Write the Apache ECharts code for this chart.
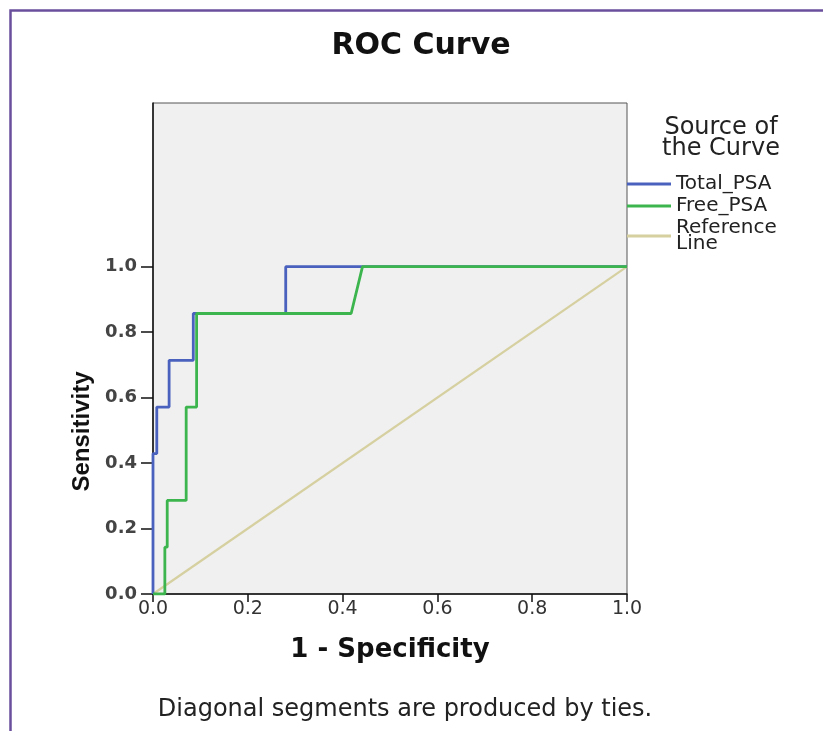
<!DOCTYPE html>
<html>
<head>
<meta charset="utf-8">
<script src="https://cdn.jsdelivr.net/npm/echarts@6/dist/echarts.min.js"></script>
<style>
html,body{margin:0;padding:0;background:#fff;}
#chart{width:823px;height:731px;}
</style>
</head>
<body>
<div id="chart"></div>
<script>
// ---- data ----
const titleText = 'ROC Curve';
const footnote = 'Diagonal segments are produced by ties.';
const legendTitle = 'Source of\nthe Curve';
const seriesNames = ['Total_PSA', 'Free_PSA', 'Reference Line'];
const xTicks = [0, 0.2, 0.4, 0.6, 0.8, 1.0];
const yTicks = [0, 0.2, 0.4, 0.6, 0.8, 1.0];

// Total_PSA ROC (1 - specificity, sensitivity)
const totalFpr  = [0, 0,     0.008, 0.008, 0.034, 0.034, 0.085, 0.085, 0.28,  0.28, 1];
const totalSens = [0, 0.429, 0.429, 0.571, 0.571, 0.714, 0.714, 0.857, 0.857, 1,    1];

// Free_PSA ROC
const freeFpr  = [0, 0.025, 0.025, 0.030, 0.030, 0.070, 0.070, 0.092, 0.092, 0.418, 0.442, 1];
const freeSens = [0, 0,     0.143, 0.143, 0.286, 0.286, 0.571, 0.571, 0.857, 0.857, 1,     1];

// Reference line
const refFpr  = [0, 1];
const refSens = [0, 1];

const zip = (xs, ys) => xs.map((x, i) => [x, ys[i]]);

const chart = echarts.init(document.getElementById('chart'), null, {renderer: 'canvas'});
const tickFont = 'DejaVu Sans';

chart.setOption({
  animation: false,
  backgroundColor: '#ffffff',
  title: [
    {text: titleText, left: 421, top: 31, textAlign: 'center', padding: 0,
     textStyle: {fontFamily: 'DejaVu Sans', fontWeight: 'bold', fontSize: 30, color: '#111'}},
    {text: legendTitle, left: 721, top: 117, textAlign: 'center', padding: 0,
     textStyle: {fontFamily: 'DejaVu Sans', fontWeight: 'normal', fontSize: 24, lineHeight: 21, color: '#222'}},
    {text: footnote, left: 405, top: 698, textAlign: 'center', padding: 0,
     textStyle: {fontFamily: 'DejaVu Sans', fontWeight: 'normal', fontSize: 24, color: '#222'}}
  ],
  legend: {
    orient: 'vertical',
    left: 627, top: 174, padding: 0,
    itemWidth: 44, itemHeight: 3, itemGap: 2,
    icon: 'rect',
    data: seriesNames,
    formatter: n => n === 'Reference Line' ? 'Reference\nLine' : n,
    textStyle: {fontFamily: 'DejaVu Sans', fontSize: 20, lineHeight: 16, color: '#222'}
  },
  graphic: [{
    type: 'rect', left: 8, top: 8, z: -10,
    shape: {width: 900, height: 900},
    style: {fill: 'none', stroke: '#6a4f9c', lineWidth: 2.5}
  }],
  grid: {
    left: 153, right: 196, top: 103, bottom: 137,
    show: true, backgroundColor: '#f0f0f0', borderColor: '#555', borderWidth: 1
  },
  xAxis: {
    type: 'value', min: 0, max: 1, interval: 0.2,
    name: '1 - Specificity', nameLocation: 'middle', nameGap: 43,
    nameTextStyle: {fontFamily: 'DejaVu Sans', fontWeight: 'bold', fontSize: 26, color: '#111'},
    axisLine: {show: true, onZero: false, lineStyle: {color: '#111', width: 1.5}},
    axisTick: {show: true, inside: false, length: 8, lineStyle: {color: '#111', width: 1.5}, customValues: xTicks},
    axisLabel: {margin: 6, fontFamily: tickFont, fontSize: 19, color: '#333', customValues: xTicks,
                formatter: v => v > 1.0001 ? '' : v.toFixed(1)},
    splitLine: {show: false}
  },
  yAxis: {
    type: 'value', min: 0, max: 1.5, interval: 0.2,
    name: 'Sensitivity', nameLocation: 'middle', nameGap: 58,
    nameTextStyle: {fontFamily: 'Liberation Sans', fontWeight: 'bold', fontSize: 24, color: '#111',
                    padding: [0, 166, 0, 0]},
    axisLine: {show: true, onZero: false, lineStyle: {color: '#111', width: 1.5}},
    axisTick: {show: true, inside: false, length: 12, lineStyle: {color: '#111', width: 1.5}, customValues: yTicks},
    axisLabel: {margin: 16, fontFamily: tickFont, fontWeight: 'bold', fontSize: 18, color: '#444', customValues: yTicks,
                formatter: v => v > 1.0001 ? '' : v.toFixed(1)},
    splitLine: {show: false}
  },
  series: [
    {name: 'Reference Line', type: 'line', data: zip(refFpr, refSens), symbol: 'none', z: 2,
     lineStyle: {color: '#d6d0a0', width: 2.2}, itemStyle: {color: '#d6d0a0'}},
    {name: 'Total_PSA', type: 'line', data: zip(totalFpr, totalSens), symbol: 'none', z: 3,
     lineStyle: {color: '#4a62bd', width: 2.8}, itemStyle: {color: '#4a62bd'}},
    {name: 'Free_PSA', type: 'line', data: zip(freeFpr, freeSens), symbol: 'none', z: 4,
     lineStyle: {color: '#3cb54e', width: 2.8}, itemStyle: {color: '#3cb54e'}}
  ]
});
</script>
</body>
</html>
